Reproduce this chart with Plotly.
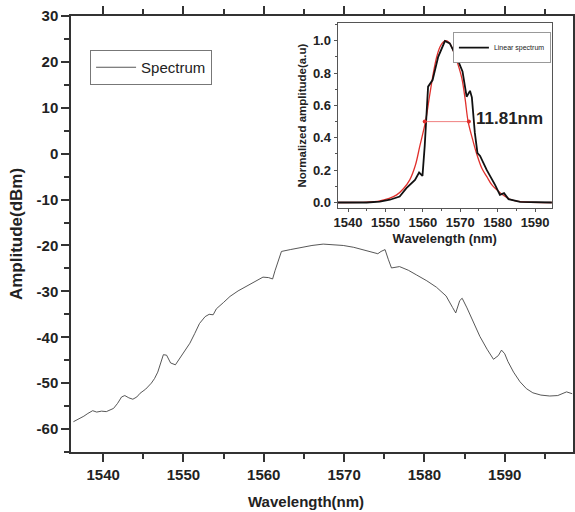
import plotly.graph_objects as go

# Main spectrum (dBm)
main_wl = [1536.3, 1536.8, 1537.1, 1537.6, 1538.1, 1538.7, 1539.2, 1539.8, 1540.4, 1540.9, 1541.3,
           1541.8, 1542.3, 1542.7, 1543.2, 1543.7, 1544.2, 1544.6, 1545.3, 1546.0, 1546.4, 1546.8,
           1547.2, 1547.5, 1547.9, 1548.4, 1549.0, 1549.6, 1550.2, 1550.8, 1551.4, 1552.0, 1552.7,
           1553.2, 1553.7, 1554.1, 1555.0, 1555.8, 1556.8, 1557.9, 1558.9, 1559.9, 1560.6, 1561.1,
           1561.4, 1561.7, 1562.2, 1563.3, 1564.5, 1566.0, 1567.4, 1568.7, 1569.9, 1571.2, 1572.4,
           1573.5, 1574.2, 1574.6, 1575.1, 1575.5, 1575.9, 1576.9, 1578.0, 1579.0, 1580.3, 1581.5,
           1582.7, 1583.5, 1583.9, 1584.4, 1584.7, 1585.3, 1586.1, 1586.9, 1587.8, 1588.6, 1589.2,
           1589.6, 1590.0, 1590.4, 1591.1, 1591.9, 1592.7, 1593.5, 1594.5, 1595.6, 1596.6, 1597.3,
           1597.7, 1598.4]
main_db = [-58.4, -58.0, -57.6, -57.2, -56.6, -56.0, -56.3, -56.1, -56.2, -55.9, -55.5,
           -54.4, -53.0, -52.7, -53.2, -53.5, -53.0, -52.2, -51.3, -50.0, -49.0, -47.6,
           -45.2, -43.8, -43.9, -45.6, -46.0, -44.4, -42.9, -41.3, -39.2, -37.0, -35.5,
           -35.0, -35.1, -33.8, -32.4, -31.1, -29.9, -28.8, -27.8, -26.9, -27.0, -27.3,
           -25.5, -23.8, -21.3, -20.9, -20.5, -20.0, -19.7, -19.8, -20.0, -20.4, -20.9,
           -21.4, -21.8, -21.3, -20.9, -23.0, -24.9, -24.6, -25.4, -26.4, -27.7, -29.1,
           -31.0, -33.5, -34.7, -32.0, -31.5, -33.6, -36.8, -39.8, -42.6, -44.8, -44.0,
           -42.8, -43.6, -45.3, -47.6, -49.7, -51.2, -52.1, -52.6, -52.8, -52.7, -52.2,
           -51.9, -52.3]

# Main y tick labels (hyphen minus as in the original)
main_y_ticks = [-60, -50, -40, -30, -20, -10, 0, 10, 20, 30]
main_y_labels = ["-60", "-50", "-40", "-30", "-20", "-10", "0", "10", "20", "30"]

# Inset: normalized linear spectrum
lin_wl = [1537.3, 1545.0, 1548.5, 1551.2, 1553.8, 1555.6, 1557.9, 1559.0, 1559.9, 1560.5, 1561.4,
          1562.6, 1564.1, 1565.9, 1567.2, 1569.0, 1570.6, 1571.7, 1572.6, 1573.1, 1573.9, 1574.6,
          1575.3, 1577.1, 1579.3, 1580.6, 1581.7, 1582.9, 1586.0, 1594.5]
lin_amp = [0.0, 0.0, 0.005, 0.017, 0.037, 0.089, 0.14, 0.185, 0.165, 0.35, 0.716,
           0.757, 0.90, 0.998, 0.984, 0.90, 0.81, 0.654, 0.69, 0.65, 0.43, 0.305,
           0.288, 0.20, 0.109, 0.047, 0.058, 0.021, 0.004, 0.0]

# Inset: fitted curve
fit_wl = [1537.3, 1545.0, 1548.5, 1551.0, 1553.0, 1554.8, 1556.5, 1558.0, 1559.2, 1560.7, 1561.8,
          1562.8, 1563.7, 1564.6, 1565.4, 1566.1, 1567.0, 1568.1, 1569.3, 1570.4, 1571.3, 1572.1,
          1573.3, 1574.4, 1575.8, 1577.1, 1578.4, 1579.8, 1581.5, 1583.3, 1586.0, 1594.5]
fit_amp = [0.0, 0.002, 0.01, 0.025, 0.047, 0.085, 0.14, 0.23, 0.35, 0.5, 0.66,
           0.8, 0.9, 0.963, 0.99, 1.0, 0.99, 0.94, 0.86, 0.77, 0.64, 0.5,
           0.39, 0.30, 0.21, 0.16, 0.11, 0.078, 0.045, 0.02, 0.005, 0.0]

fwhm_wl = [1560.5, 1572.3]
fwhm_amp = [0.5, 0.5]
fwhm_label = "11.81nm"

FONT = "Liberation Sans"

fig = go.Figure()
fig.add_trace(go.Scatter(x=main_wl, y=main_db, mode="lines", name="Spectrum",
                         line=dict(color="#444444", width=0.9), xaxis="x", yaxis="y",
                         legend="legend"))
fig.add_trace(go.Scatter(x=fit_wl, y=fit_amp, mode="lines", name="fit", showlegend=False,
                         line=dict(color="#e0302c", width=1.3, shape="spline"), xaxis="x2", yaxis="y2"))
fig.add_trace(go.Scatter(x=lin_wl, y=lin_amp, mode="lines", name="Linear spectrum",
                         line=dict(color="#111111", width=1.8), xaxis="x2", yaxis="y2",
                         legend="legend2"))
fig.add_trace(go.Scatter(x=fwhm_wl, y=fwhm_amp, mode="lines+markers", showlegend=False,
                         line=dict(color="#f08080", width=1), marker=dict(color="#e0302c", size=4),
                         xaxis="x2", yaxis="y2"))

axis_common = dict(showline=True, linecolor="#333333", linewidth=1.5, mirror="ticks",
                   ticks="outside", tickcolor="#333333", showgrid=False, zeroline=False,
                   automargin=False)

fig.update_layout(
    width=575, height=512,
    margin=dict(l=71, r=2, t=16, b=60),
    paper_bgcolor="white", plot_bgcolor="white",
    font=dict(family=FONT, color="#222222"),
    xaxis=dict(**axis_common, range=[1536, 1598.5], dtick=10, tick0=1540, ticklen=8, tickwidth=1.5,
               minor=dict(dtick=5, ticks="outside", ticklen=5, tickcolor="#333333", tickwidth=1.5),
               tickfont=dict(size=15, weight="bold", color="#222222"), domain=[0, 1]),
    yaxis=dict(**axis_common, range=[-65, 30], tickmode="array", tickvals=main_y_ticks,
               ticktext=main_y_labels, ticklen=8, tickwidth=1.5,
               minor=dict(dtick=5, tick0=0, ticks="outside", ticklen=5, tickcolor="#333333", tickwidth=1.5),
               tickfont=dict(size=15, weight="bold", color="#222222"),
               title=dict(text="Amplitude(dBm)", font=dict(size=17, weight="bold", color="#222222"),
                          standoff=10), domain=[0, 1]),
    xaxis2=dict(showline=True, linecolor="#555555", linewidth=1, mirror=True, ticks="outside",
                tickcolor="#555555", ticklen=3, showgrid=False, zeroline=False, automargin=False,
                range=[1537.2, 1594.5], dtick=10, tick0=1540,
                minor=dict(dtick=5, ticks="outside", ticklen=2, tickcolor="#555555"),
                tickfont=dict(size=13, weight="bold", color="#222222"),
                title=dict(text="Wavelength (nm)", font=dict(size=13, weight="bold", color="#222222"),
                           standoff=4),
                domain=[0.531, 0.958], anchor="y2"),
    yaxis2=dict(showline=True, linecolor="#555555", linewidth=1, mirror=True, ticks="outside",
                tickcolor="#555555", ticklen=3, showgrid=False, zeroline=False, automargin=False,
                range=[-0.033, 1.107], dtick=0.2, tickformat=".1f",
                minor=dict(dtick=0.1, ticks="outside", ticklen=2, tickcolor="#555555"),
                tickfont=dict(size=13, weight="bold", color="#222222"),
                title=dict(text="Normalized amplitude(a.u)", font=dict(size=11.5, weight="bold", color="#222222"),
                           standoff=3),
                domain=[0.560, 0.983], anchor="x2"),
    legend=dict(x=0.038, y=0.922, xanchor="left", yanchor="top", bgcolor="white",
                bordercolor="#777777", borderwidth=1, font=dict(size=15, color="#222222"),
                itemwidth=40, tracegroupgap=0),
    legend2=dict(x=0.956, y=0.963, xanchor="right", yanchor="top", bgcolor="white",
                 bordercolor="#999999", borderwidth=1, font=dict(size=7, color="#222222"),
                 itemwidth=30),
    showlegend=True,
)

fig.add_annotation(text="Wavelength(nm)", xref="paper", yref="paper", x=0.468, y=-0.09,
                   xanchor="center", yanchor="top", showarrow=False,
                   font=dict(size=15, weight="bold", color="#222222"))
fig.add_annotation(text=fwhm_label, xref="x2", yref="y2", x=1573.8, y=0.52,
                   xanchor="left", yanchor="middle", showarrow=False,
                   font=dict(size=17, weight="bold", color="#222222"))

fig.write_html("out.html")
